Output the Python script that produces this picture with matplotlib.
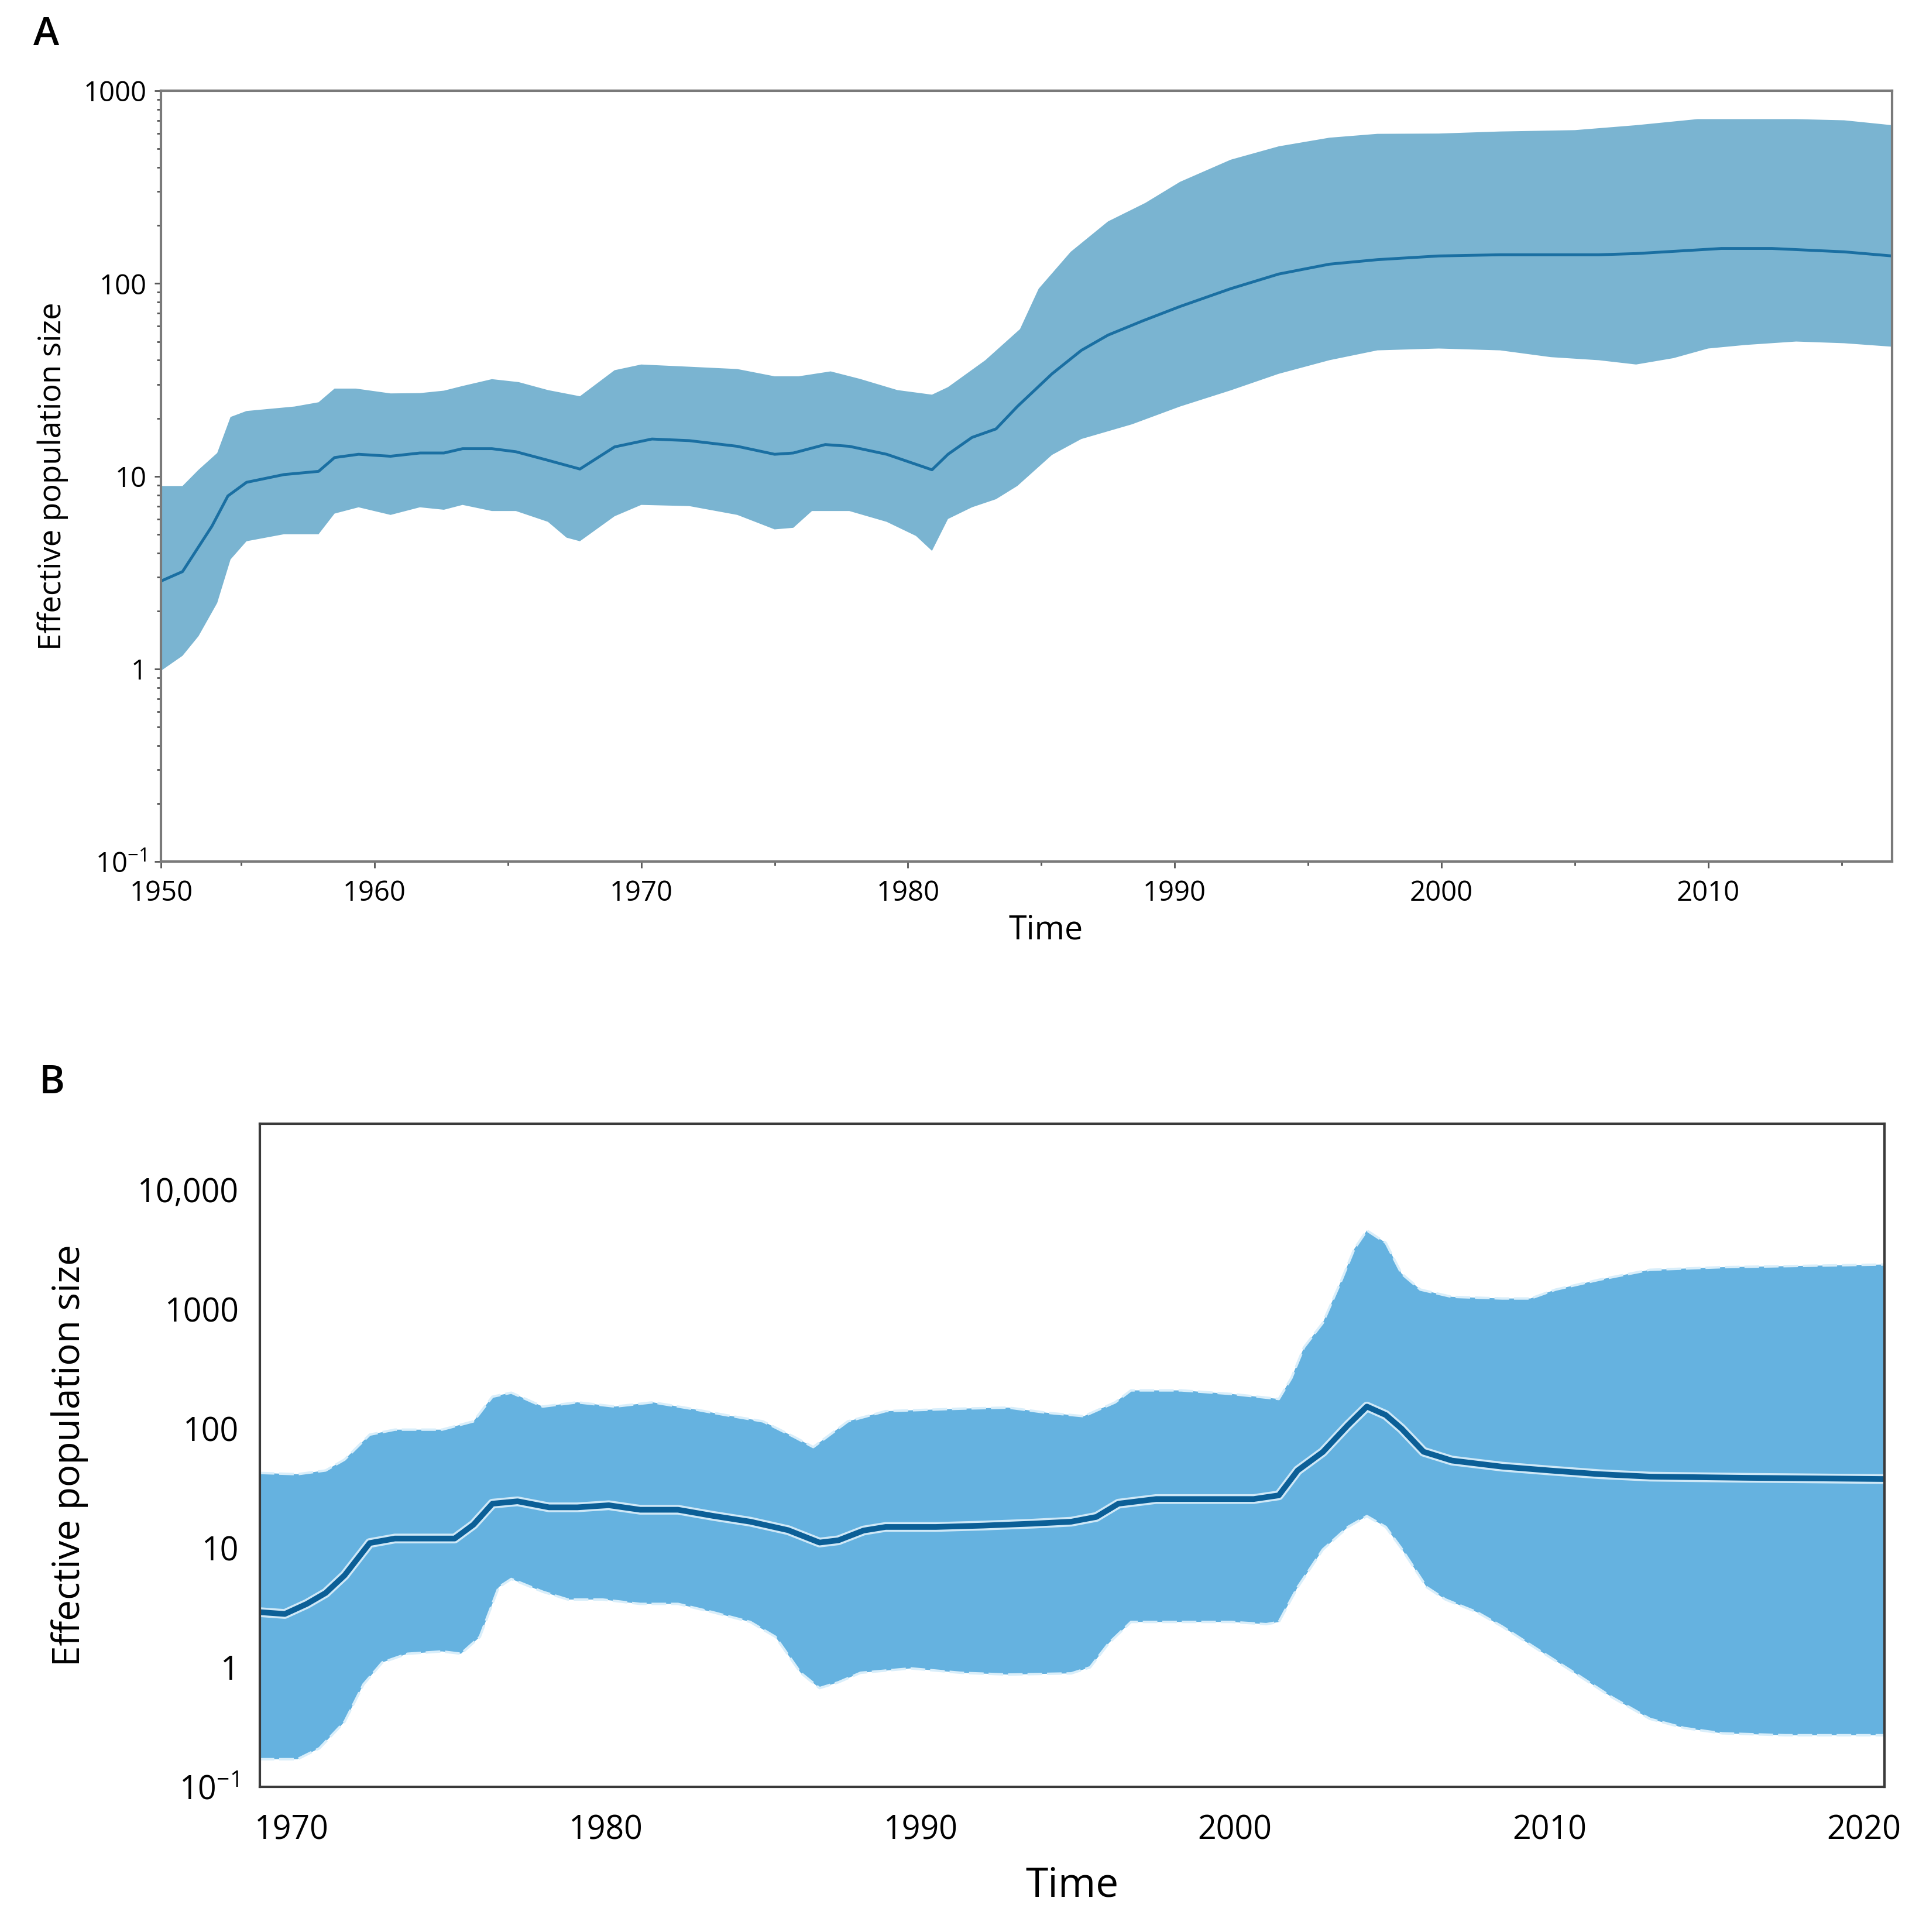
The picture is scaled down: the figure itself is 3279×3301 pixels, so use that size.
import numpy as np
import matplotlib
matplotlib.use("Agg")
import matplotlib.pyplot as plt
from matplotlib.ticker import LogLocator, NullFormatter, FixedLocator

plt.rcParams['font.family'] = ['Open Sans', 'DejaVu Sans']
plt.rcParams['mathtext.default'] = 'regular'

# ---- panel A data ----
a_mid_years = [1952.0, 1952.8, 1953.9, 1954.5, 1955.2, 1956.6, 1957.9, 1958.5, 1959.4, 1960.6,
               1961.7, 1962.6, 1963.3, 1964.4, 1965.3, 1966.5, 1967.7, 1969.0, 1970.4, 1971.8,
               1973.6, 1975.0, 1975.7, 1976.9, 1977.8, 1979.2, 1980.9, 1981.5, 1982.4, 1983.3,
               1984.1, 1985.4, 1986.5, 1987.5, 1988.8, 1990.2, 1992.1, 1993.9, 1995.8, 1997.6,
               1999.9, 2002.2, 2005.9, 2007.3, 2010.5, 2012.4, 2015.1, 2016.9]
a_mid = [2.86, 3.2, 5.5, 7.9, 9.3, 10.2, 10.6, 12.5, 13.0, 12.7,
         13.2, 13.2, 13.9, 13.9, 13.4, 12.1, 10.9, 14.2, 15.6, 15.3,
         14.3, 13.0, 13.2, 14.6, 14.3, 13.0, 10.8, 13.0, 15.9, 17.6,
         23, 34, 45, 54, 64, 76, 94, 112, 126, 133,
         139, 141, 141, 143, 152, 152, 146, 139]

a_up_years = [1952.0, 1952.8, 1953.4, 1954.1, 1954.6, 1955.2, 1957.0, 1957.9, 1958.5, 1959.3,
              1960.6, 1961.7, 1962.6, 1963.3, 1964.4, 1965.4, 1966.5, 1967.7, 1969.0, 1970.0,
              1971.8, 1973.6, 1975.0, 1975.9, 1977.1, 1978.2, 1979.6, 1980.9, 1981.5, 1982.9,
              1984.2, 1984.9, 1986.1, 1987.5, 1988.9, 1990.2, 1992.1, 1993.9, 1995.8, 1997.6,
              1999.9, 2002.2, 2005.0, 2007.3, 2009.6, 2011.4, 2013.3, 2015.1, 2016.9]
a_up = [8.9, 8.9, 10.8, 13.2, 20.3, 21.8, 23, 24.2, 28.5, 28.5,
        26.9, 27, 27.8, 29.4, 31.9, 30.8, 28, 26, 35.5, 38,
        37, 36, 33, 33, 35, 32, 28, 26.5, 29, 40,
        58, 94, 146, 210, 262, 337, 439, 515, 571, 598,
        600, 615, 625, 663, 713, 713, 713, 703, 663]

a_lo_years = [1952.0, 1952.8, 1953.4, 1954.1, 1954.6, 1955.2, 1956.6, 1957.9, 1958.5, 1959.4,
              1960.6, 1961.7, 1962.6, 1963.3, 1964.4, 1965.3, 1966.5, 1967.2, 1967.7, 1969.0,
              1970.0, 1971.8, 1973.6, 1975.0, 1975.7, 1976.4, 1977.8, 1979.2, 1980.3, 1980.9,
              1981.5, 1982.4, 1983.3, 1984.1, 1985.4, 1986.5, 1988.4, 1990.2, 1992.1, 1993.9,
              1995.8, 1997.6, 1999.9, 2002.2, 2004.1, 2005.9, 2007.3, 2008.7, 2010.0, 2011.4,
              2013.3, 2015.1, 2016.9]
a_lo = [0.98, 1.17, 1.48, 2.2, 3.7, 4.6, 5.0, 5.0, 6.4, 6.9,
        6.3, 6.9, 6.7, 7.1, 6.6, 6.6, 5.8, 4.8, 4.6, 6.2,
        7.1, 7.0, 6.3, 5.3, 5.4, 6.6, 6.6, 5.8, 4.9, 4.1,
        6.0, 6.9, 7.6, 8.9, 12.9, 15.6, 18.6, 23, 27.9, 34,
        40, 45, 46, 45, 41.5, 40, 38, 41, 46, 48,
        50, 49, 47]

a_xticks = [1960, 1970, 1980, 1990, 2000, 2010]
a_xlabels = ['1960', '1970', '1980', '1990', '2000', '2010']
a_yticks = [0.1, 1, 10, 100, 1000]
a_ylabels = ['10$^{-1}$', '1', '10', '100', '1000']

# ---- panel B data ----
b_mid_years = [1969.0, 1969.8, 1970.5, 1971.1, 1971.7, 1972.5, 1973.3, 1974.1, 1975.2, 1975.8,
               1976.4, 1977.2, 1978.2, 1979.1, 1980.1, 1981.1, 1982.3, 1983.4, 1984.6, 1985.8,
               1986.8, 1987.4, 1988.2, 1988.9, 1990.5, 1992.0, 1993.6, 1994.8, 1995.6, 1996.3,
               1997.5, 1999.1, 2000.6, 2001.4, 2002.0, 2002.8, 2003.6, 2004.2, 2004.8, 2005.3,
               2006.0, 2006.9, 2008.5, 2010.0, 2011.6, 2013.2, 2016.3, 2020.7]
b_mid = [2.9, 2.8, 3.4, 4.2, 5.9, 11, 12, 12, 12, 15.7,
         23.5, 24.6, 21.9, 21.9, 22.8, 20.9, 20.9, 18.6, 16.6, 14.1,
         11.1, 11.6, 14, 15, 15, 15.4, 16, 16.6, 18.2, 23.5,
         25.7, 25.7, 25.7, 27.6, 44.6, 63.7, 107, 153, 130, 100,
         64, 54, 48, 44.6, 41.5, 39.6, 38.7, 37.8]

b_up_years = [1969.0, 1970.2, 1971.1, 1971.7, 1972.5, 1973.3, 1974.8, 1975.8, 1976.4, 1977.0,
              1978.0, 1979.1, 1980.3, 1981.5, 1982.7, 1983.8, 1985.0, 1986.0, 1986.6, 1987.7,
              1988.9, 1991.3, 1992.8, 1994.0, 1995.2, 1996.2, 1996.7, 1998.3, 1999.9, 2001.4,
              2001.8, 2002.2, 2002.8, 2003.4, 2003.8, 2004.2, 2004.8, 2005.3, 2005.9, 2006.9,
              2008.5, 2009.4, 2010.2, 2011.6, 2013.2, 2015.5, 2020.7]
b_up = [42.5, 41.5, 44.6, 55, 89, 98, 98, 115, 185, 200,
        153, 166, 153, 166, 147, 130, 115, 85, 70, 115,
        140, 147, 150, 136, 127, 166, 209, 209, 195, 177,
        265, 479, 770, 1770, 3200, 4570, 3600, 1990, 1460, 1270,
        1230, 1230, 1460, 1770, 2140, 2250, 2370]

b_lo_years = [1969.0, 1970.2, 1970.9, 1971.7, 1972.3, 1972.9, 1973.7, 1974.8, 1975.4, 1976.0,
              1976.6, 1977.0, 1978.0, 1978.8, 1979.9, 1981.1, 1982.3, 1983.4, 1984.6, 1985.4,
              1986.2, 1986.8, 1987.4, 1988.1, 1989.7, 1991.3, 1992.8, 1994.8, 1995.4, 1996.0,
              1996.7, 1997.5, 1999.9, 2001.0, 2001.4, 2002.0, 2002.8, 2003.6, 2004.2, 2004.8,
              2005.3, 2006.1, 2006.7, 2007.7, 2008.5, 2009.6, 2010.8, 2012.0, 2013.2, 2014.3,
              2015.5, 2017.5, 2020.7]
b_lo = [0.17, 0.17, 0.21, 0.35, 0.72, 1.1, 1.3, 1.36, 1.3, 1.8,
        4.7, 5.5, 4.3, 3.7, 3.7, 3.4, 3.4, 2.9, 2.4, 1.8,
        0.9, 0.67, 0.75, 0.9, 0.98, 0.9, 0.87, 0.89, 1.0, 1.6,
        2.4, 2.4, 2.4, 2.3, 2.4, 4.7, 9.7, 15, 18.5, 15,
        9.9, 4.7, 3.7, 2.9, 2.2, 1.43, 0.9, 0.56, 0.37, 0.31,
        0.28, 0.27, 0.27]

b_xticks = [1970, 1980, 1990, 2000, 2010, 2020]
b_yticks = [0.1, 1, 10, 100, 1000, 10000]
b_ylabels = ['10$^{-1}$', '1', '10', '100', '1000', '10,000']

fig = plt.figure(figsize=(32.79, 33.01), dpi=100)

# ---------------- panel A ----------------
axA = fig.add_axes([0.084, 0.554, 0.902, 0.399])
axA.fill(np.concatenate([a_up_years, a_lo_years[::-1]]),
         np.concatenate([a_up, a_lo[::-1]]),
         color='#7ab4d1', lw=0)
axA.plot(a_mid_years, a_mid, color='#1a6fa2', lw=3.5)
axA.set_yscale('log')
axA.set_xlim(1952.0, 2016.9)
axA.set_ylim(0.1, 1000)
axA.set_xticks([1952.0] + a_xticks)
axA.set_xticklabels(['1950'] + a_xlabels)
axA.xaxis.set_minor_locator(FixedLocator([1955, 1965, 1975, 1985, 1995, 2005, 2015]))
axA.set_yticks(a_yticks)
axA.set_yticklabels(a_ylabels)
axA.yaxis.set_minor_locator(LogLocator(base=10, subs=np.arange(2, 10)))
axA.yaxis.set_minor_formatter(NullFormatter())
for s in axA.spines.values():
    s.set_color('#7a7a7a')
    s.set_linewidth(3)
axA.tick_params(axis='both', which='major', labelsize=34, length=8, width=2,
                color='#555555', direction='out')
axA.tick_params(axis='both', which='minor', length=5, width=2, color='#555555')
axA.tick_params(axis='x', pad=14)
axA.tick_params(axis='y', pad=10)
axA.set_xlabel('Time', fontsize=40, labelpad=10)
axA.xaxis.set_label_coords(0.511, -0.068)
axA.set_ylabel('Effective population size', fontsize=38, labelpad=18)

# ---------------- panel B ----------------
axB = fig.add_axes([0.1353, 0.0752, 0.8468, 0.3433])
axB.fill(np.concatenate([b_up_years, b_lo_years[::-1]]),
         np.concatenate([b_up, b_lo[::-1]]),
         color='#65b2e0', lw=0)
axB.plot(b_up_years, b_up, color='#d9eefa', lw=3, ls=(0, (6, 2)))
axB.plot(b_lo_years, b_lo, color='#d9eefa', lw=3, ls=(0, (6, 2)))
axB.plot(b_mid_years, b_mid, color='#cfe8f7', lw=12)
axB.plot(b_mid_years, b_mid, color='#0b5f97', lw=7)
axB.set_yscale('log')
axB.set_xlim(1969.0, 2020.66)
axB.set_ylim(0.1, 36000)
axB.set_xticks(b_xticks)
axB.set_xticklabels([str(y) for y in b_xticks])
axB.set_yticks(b_yticks)
axB.set_yticklabels(b_ylabels)
axB.yaxis.set_minor_locator(FixedLocator([]))
for s in axB.spines.values():
    s.set_color('#3a3a3a')
    s.set_linewidth(3)
axB.tick_params(axis='both', which='both', length=0, labelsize=40)
axB.tick_params(axis='x', pad=34)
axB.tick_params(axis='y', pad=26)
axB.set_xlabel('Time', fontsize=50, labelpad=22)
axB.set_ylabel('Effective population size', fontsize=46, labelpad=60)

fig.text(0.024, 0.982, 'A', fontsize=48, fontweight='semibold', ha='center', va='center')
fig.text(0.027, 0.4395, 'B', fontsize=48, fontweight='semibold', ha='center', va='center')

fig.savefig('out.png', dpi=100)
